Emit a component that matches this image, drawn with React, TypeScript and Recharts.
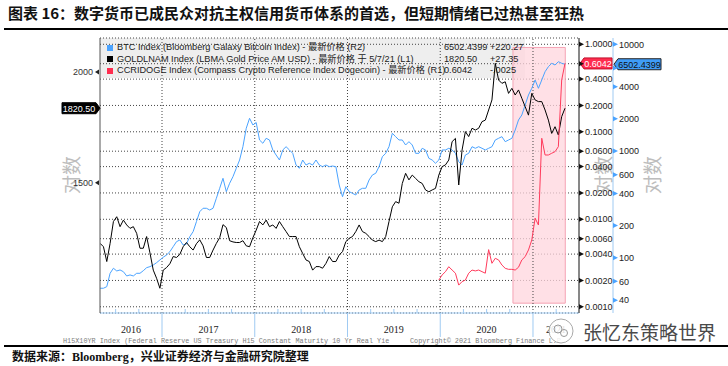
import React from "react";
import {
  LineChart,
  Line,
  XAxis,
  YAxis,
  CartesianGrid,
  ReferenceLine,
  ReferenceArea,
  ReferenceDot,
} from "recharts";

// readings every ~13 days, starting early May 2016 (decimal years)
const t0 = 2016.333;
const step = 0.0358;

const goldPrices = [
  1281, 1270, 1222, 1281, 1356, 1373, 1338, 1361, 1344, 1332, 1338, 1315, 1265, 1265, 1304, 1250, 1195, 1170, 1140, 1195,
  1203, 1215, 1238, 1235, 1245, 1270, 1284, 1270, 1259, 1280, 1293, 1273, 1235, 1235, 1259, 1281, 1300, 1345, 1335, 1290,
  1286, 1284, 1284, 1290, 1273, 1270, 1300,
  1326, 1356, 1344, 1361, 1338, 1344, 1332, 1356, 1338, 1321, 1304, 1304, 1304, 1270, 1248, 1227, 1222, 1195, 1206, 1206,
  1201, 1216, 1238, 1222, 1222, 1243, 1254, 1287, 1298, 1304, 1321, 1344, 1321, 1315, 1304, 1292, 1287, 1292, 1287, 1304,
  1356, 1409, 1428, 1422, 1497, 1537, 1511,
  1530, 1517, 1504, 1497, 1472, 1465, 1472, 1478, 1530, 1564, 1571, 1591, 1669, 1683, 1491, 1633, 1713, 1691, 1728, 1720,
  1728, 1758, 1765, 1812, 1860, 2046, 1959, 1942, 1950, 1892, 1917, 1884, 1909, 1868, 1828, 1788, 1892, 1860, 1852, 1852,
  1812, 1765, 1705, 1735, 1698, 1781, 1820.5,
];

const btcIndex = [
  51.7, 51.7, 53.5, 71.4, 79.6, 75.1, 76.7, 73.9, 67.4, 68.9, 67.4, 71.4, 71.4, 75.5, 80.6, 82.4, 85.4, 89.8, 95.2, 100.9,
  106, 113.8, 126.8, 141.3, 146.5, 131.5, 134.4, 157.3, 175.3, 217.5, 269.9, 290.4, 290.4, 279.9, 290.4, 360.2, 447.1,
  554.8, 415.5, 498.1, 574.2, 688.5, 823.5, 1097, 1632, 2025, 1753,
  1850, 1268, 1181, 1315, 1268, 1022, 917, 823, 1022, 1097, 1022, 951, 739, 689, 823, 739, 767, 739, 823, 739, 713, 739,
  713, 723, 713, 480, 373, 463, 416, 401, 387, 431, 447, 447, 535, 596, 618, 713, 884, 951, 1097, 1465, 1362, 1268, 1268,
  1138, 1223,
  1138, 951, 951, 1060, 1022, 854, 823, 767, 823, 1022, 1022, 1060, 1022, 951, 794, 739, 917, 951, 1097, 1060, 1097, 1060,
  1022, 1060, 1097, 1268, 1315, 1362, 1223, 1268, 1315, 1573, 1952, 2175, 2699, 3348, 3869, 4628, 3869, 4628, 5537, 6169,
  6636, 6397, 6869, 6636, 6502.4399,
];

// dogecoin series begins at sample 102 (start of 2020)
const dogeFrom = 102;
const dogePrices = [
  0.00202, 0.00231, 0.00252, 0.00287, 0.00263, 0.00242, 0.00177, 0.00194, 0.00202, 0.00242, 0.00263, 0.00257, 0.00263,
  0.00252, 0.00242, 0.0045, 0.00314, 0.00358, 0.00343, 0.003, 0.00275, 0.00268, 0.00268, 0.00263, 0.00283, 0.00343,
  0.00374, 0.00446, 0.0058, 0.0103, 0.0086, 0.0843, 0.0543, 0.0543, 0.0568, 0.0593, 0.0676, 0.391, 0.6042,
];

const yearLabels = ["2016", "2017", "2018", "2019", "2020", "2021"];
const yearLines = [2017, 2018, 2019, 2020, 2021];
const goldTicks = [1500, 2000];
const dogeTicks = [0.001, 0.002, 0.004, 0.006, 0.01, 0.02, 0.04, 0.06, 0.1, 0.2, 0.4, 0.6, 1];
const btcTicks = [40, 60, 100, 200, 400, 600, 1000, 2000, 4000, 6000, 10000];
// tick labels sitting under the last-price tags
const hiddenTickLabels = [0.6, 6000];

const legendRows = [
  { name: "BTC Index (Bloomberg Galaxy Bitcoin Index) - 最新价格 (R2)", last: "6502.4399", chg: "+220.27", color: "#4aa3ff" },
  { name: "GOLDLNAM Index (LBMA Gold Price AM USD) - 最新价格 于 5/7/21 (L1)", last: "1820.50", chg: "+27.35", color: "#000000" },
  { name: "CCRIDOGE Index (Compass Crypto Reference Index Dogecoin) - 最新价格 (R1)", last: "0.6042", chg: "-.0025", color: "#ff2d4f" },
];

// pink highlight: Oct 2020 to May 2021
const hotFrom = 2020.784;
const hotTo = 2021.348;

const xDomain = [2016.3315, 2021.496];
const goldDomain = [1069, 2185];
const dogeDomain = [0.000849, 1.18];
const btcDomain = [30.3, 11457];

const rows = goldPrices.map((g, i) => ({
  t: +(t0 + i * step).toFixed(4),
  gold: g,
  btc: btcIndex[i],
  doge: i >= dogeFrom ? dogePrices[i - dogeFrom] : null,
}));

const SANS = '"Liberation Sans", "Noto Sans CJK SC", sans-serif';
const CJK = '"Noto Sans CJK SC", sans-serif';
const AXIS_BLUE = "#9fcaf2";
const BTC_BLUE = "#4aa3ff";
const DOGE_RED = "#ff3b5c";
const R1_WIDTH = 34;

const labelAt = new Map<number, string>();
yearLabels.forEach((y) => {
  const lo = Math.max(+y, xDomain[0]);
  const hi = Math.min(+y + 1, xDomain[1]);
  labelAt.set((lo + hi) / 2, y);
});
const quarterTicks: number[] = [];
for (let q = 2016.5; q < xDomain[1]; q += 0.25) quarterTicks.push(q);
const xTicks = Array.from(new Set([...quarterTicks, ...labelAt.keys()])).sort((a, b) => a - b);

function XTick(props: any) {
  const { x, y, payload } = props;
  const v = payload.value;
  const isYear = Math.abs(v - Math.round(v)) < 1e-6;
  const isQuarter = !isYear && Math.abs(v * 4 - Math.round(v * 4)) < 1e-6;
  const label = labelAt.get(v);
  return (
    <g>
      {isYear && <line x1={x} x2={x} y1={y} y2={y + 24} stroke={AXIS_BLUE} />}
      {isQuarter && <line x1={x} x2={x} y1={y} y2={y - 4} stroke={AXIS_BLUE} />}
      {label && (
        <text x={x} y={y + 19.5} textAnchor="middle" fontSize={10} fontFamily='"Liberation Serif", serif' fill="#222">
          {label}
        </text>
      )}
    </g>
  );
}

function LeftTick(props: any) {
  const { x, y, payload } = props;
  return (
    <g>
      <polygon points={`${x - 1},${y - 2.5} ${x - 1},${y + 2.5} ${x - 5},${y}`} fill="#222" />
      <text x={x - 7} y={y + 3.2} textAnchor="end" fontSize={9} fontFamily={SANS} fill="#333">
        {payload.value}
      </text>
    </g>
  );
}

function makeRightTick(color: string, fmt: (v: number) => string) {
  return (props: any) => {
    const { x, y, payload } = props;
    return (
      <g>
        <polygon points={`${x},${y - 2.5} ${x},${y + 2.5} ${x + 5},${y}`} fill={color} />
        {!hiddenTickLabels.includes(payload.value) && (
          <text x={x + 6} y={y + 3.2} fontSize={9} fontFamily={SANS} fill="#222">
            {fmt(payload.value)}
          </text>
        )}
      </g>
    );
  };
}

function Tag({ cx, cy, dx = 0, side, w, text, fill, color, border }: any) {
  const h = 11;
  const x = cx + dx;
  if (side === "left") {
    const pts = `${x},${cy} ${x - 4},${cy - h / 2} ${x - 4 - w},${cy - h / 2} ${x - 4 - w},${cy + h / 2} ${x - 4},${cy + h / 2}`;
    return (
      <g>
        <polygon points={pts} fill={fill} stroke={border} />
        <text x={x - 4 - w / 2} y={cy + 3.3} textAnchor="middle" fontSize={9} fontFamily={SANS} fill={color}>
          {text}
        </text>
      </g>
    );
  }
  const pts = `${x + 1},${cy} ${x + 5},${cy - h / 2} ${x + 5 + w},${cy - h / 2} ${x + 5 + w},${cy + h / 2} ${x + 5},${cy + h / 2}`;
  return (
    <g>
      <polygon points={pts} fill={fill} stroke={border} />
      <text x={x + 5 + w / 2} y={cy + 3.3} textAnchor="middle" fontSize={9} fontFamily={SANS} fill={color}>
        {text}
      </text>
    </g>
  );
}

function LogLabel({ cx, cy }: { cx: number; cy: number }) {
  return (
    <div
      style={{
        position: "absolute",
        left: cx - 22,
        top: cy - 11,
        width: 44,
        height: 22,
        lineHeight: "22px",
        textAlign: "center",
        fontSize: 19,
        fontFamily: CJK,
        color: "#bdbdbd",
        transform: "rotate(-90deg)",
      }}
    >
      对数
    </div>
  );
}

export default function App() {
  return (
    <div
      style={{
        position: "absolute",
        left: 0,
        top: 0,
        width: 728,
        height: 366,
        background: "#fff",
        overflow: "hidden",
      }}
    >
      <div
        style={{
          position: "absolute",
          left: 8,
          top: 2,
          fontSize: 15,
          fontWeight: 700,
          fontFamily: CJK,
          whiteSpace: "nowrap",
          color: "#111",
        }}
      >
        图表 16：数字货币已成民众对抗主权信用货币体系的首选，但短期情绪已过热甚至狂热
      </div>
      <div style={{ position: "absolute", left: 4, top: 28, width: 724, height: 1.5, background: "#000" }} />

      <LogLabel cx={71} cy={175} />
      <LogLabel cx={603} cy={175} />
      <LogLabel cx={652} cy={175} />

      {/* legend panel sits under the plot */}
      <div style={{ position: "absolute", left: 100, top: 38, width: 425, height: 40, background: "#eeeeee" }} />

      <div style={{ position: "absolute", left: 0, top: 0 }}>
        <LineChart width={728} height={340} data={rows} margin={{ top: 38, right: 75, bottom: 0, left: 0 }}>
          <CartesianGrid yAxisId="r1" vertical={false} stroke="#444" strokeDasharray="1 2" />
          <XAxis
            dataKey="t"
            type="number"
            domain={xDomain}
            allowDataOverflow
            ticks={xTicks}
            interval={0}
            height={27}
            tickSize={0}
            tickMargin={0}
            tickLine={false}
            axisLine={{ stroke: AXIS_BLUE }}
            tick={XTick}
          />
          <YAxis
            yAxisId="l1"
            orientation="left"
            width={100}
            scale="log"
            domain={goldDomain}
            allowDataOverflow
            ticks={goldTicks}
            interval={0}
            tickSize={0}
            tickMargin={0}
            tickLine={false}
            axisLine={{ stroke: "#555" }}
            tick={LeftTick}
          />
          <YAxis
            yAxisId="r2"
            orientation="right"
            width={40}
            scale="log"
            domain={btcDomain}
            allowDataOverflow
            ticks={btcTicks}
            interval={0}
            tickSize={0}
            tickMargin={0}
            tickLine={false}
            axisLine={{ stroke: AXIS_BLUE }}
            tick={makeRightTick(BTC_BLUE, (v) => String(v))}
          />
          <YAxis
            yAxisId="r1"
            orientation="right"
            width={R1_WIDTH}
            scale="log"
            domain={dogeDomain}
            allowDataOverflow
            ticks={dogeTicks}
            interval={0}
            tickSize={0}
            tickMargin={0}
            tickLine={false}
            axisLine={{ stroke: "#111" }}
            tick={makeRightTick("#111", (v) => v.toFixed(4))}
          />
          {yearLines.map((yr) => (
            <ReferenceLine key={yr} x={yr} yAxisId="r1" stroke="#444" strokeDasharray="1 2" />
          ))}
          <ReferenceArea
            yAxisId="r1"
            x1={hotFrom}
            x2={hotTo}
            y1={0.0011}
            y2={0.92}
            fill="#ffd6de"
            fillOpacity={0.75}
            stroke="#f5a3b4"
            strokeOpacity={1}
          />
          <Line yAxisId="r2" dataKey="btc" stroke={BTC_BLUE} strokeWidth={1} dot={false} isAnimationActive={false} />
          <Line yAxisId="l1" dataKey="gold" stroke="#000" strokeWidth={1} dot={false} isAnimationActive={false} />
          <Line yAxisId="r1" dataKey="doge" stroke={DOGE_RED} strokeWidth={1} dot={false} isAnimationActive={false} />
          <ReferenceDot
            yAxisId="l1"
            x={xDomain[0]}
            y={goldPrices[goldPrices.length - 1]}
            r={0}
            ifOverflow="visible"
            shape={(p: any) => <Tag cx={p.cx} cy={p.cy} side="left" w={34} text="1820.50" fill="#000" color="#fff" border="#000" />}
          />
          <ReferenceDot
            yAxisId="r1"
            x={xDomain[1]}
            y={dogePrices[dogePrices.length - 1]}
            r={0}
            ifOverflow="visible"
            shape={(p: any) => <Tag cx={p.cx} cy={p.cy} side="right" w={28} text="0.6042" fill="#ff2d4f" color="#fff" border="#c0102c" />}
          />
          <ReferenceDot
            yAxisId="r2"
            x={xDomain[1]}
            y={btcIndex[btcIndex.length - 1]}
            r={0}
            ifOverflow="visible"
            shape={(p: any) => (
              <Tag cx={p.cx} cy={p.cy} dx={R1_WIDTH} side="right" w={43} text="6502.4399" fill="#3f9cf7" color="#111" border="#222" />
            )}
          />
        </LineChart>
      </div>

      {/* legend text over the plot */}
      {legendRows.map((r, i) => (
        <div
          key={r.name}
          style={{
            position: "absolute",
            left: 107,
            top: 41 + i * 11.7,
            height: 12,
            lineHeight: "12px",
            fontSize: 9.2,
            fontFamily: SANS,
            color: "#222",
            whiteSpace: "nowrap",
          }}
        >
          <span style={{ display: "inline-block", width: 6, height: 6, background: r.color, marginRight: 4, verticalAlign: "-0.5px" }} />
          {r.name}
          <span style={{ position: "absolute", left: 337 }}>{r.last}</span>
          <span style={{ position: "absolute", left: 383 }}>{r.chg}</span>
        </div>
      ))}

      <div
        style={{
          position: "absolute",
          left: 63,
          top: 337,
          fontSize: 6.8,
          fontFamily: '"Liberation Mono", monospace',
          color: "#7d7d7d",
          whiteSpace: "nowrap",
        }}
      >
        H15X10YR Index (Federal Reserve US Treasury H15 Constant Maturity 10 Yr Real Yie
      </div>
      <div
        style={{
          position: "absolute",
          left: 410,
          top: 337,
          fontSize: 6.8,
          fontFamily: '"Liberation Mono", monospace',
          color: "#7d7d7d",
          whiteSpace: "nowrap",
        }}
      >
        Copyright© 2021 Bloomberg Finance L.P.
      </div>

      {/* watermark */}
      <svg style={{ position: "absolute", left: 545, top: 316 }} width={32} height={32}>
        <circle cx={16} cy={15} r={12} fill="#fff" fillOpacity={0.85} stroke="#aaa" />
        <circle cx={13} cy={13} r={4} fill="none" stroke="#999" />
        <circle cx={19} cy={17} r={3.5} fill="none" stroke="#999" />
      </svg>
      <div
        style={{
          position: "absolute",
          left: 583,
          top: 318,
          fontSize: 19,
          fontFamily: CJK,
          color: "#4a4a4a",
          whiteSpace: "nowrap",
          textShadow: "0 0 2px #fff, 0 0 2px #fff",
        }}
      >
        张忆东策略世界
      </div>

      <div style={{ position: "absolute", left: 4, top: 345, width: 724, height: 1.5, background: "#000" }} />
      <div
        style={{
          position: "absolute",
          left: 12,
          top: 347,
          fontSize: 12,
          lineHeight: "17px",
          fontWeight: 700,
          fontFamily: CJK,
          color: "#111",
          whiteSpace: "nowrap",
        }}
      >
        数据来源：<span style={{ fontFamily: '"Liberation Serif", serif' }}>Bloomberg</span>，兴业证券经济与金融研究院整理
      </div>
    </div>
  );
}
